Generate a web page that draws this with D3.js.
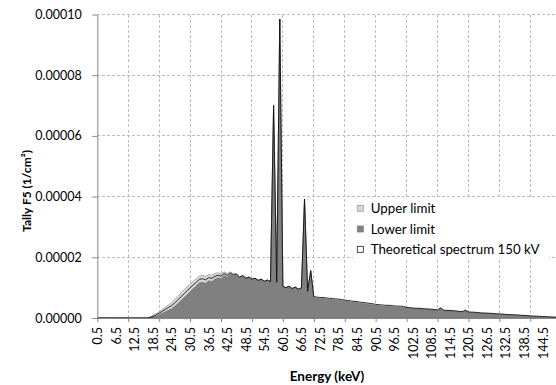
<!DOCTYPE html>
<html><head><meta charset="utf-8">
<script src="https://cdn.jsdelivr.net/npm/d3@7"></script>
<style>
body{margin:0;background:#fff}
svg{display:block}
text{font-family:Lato,"Open Sans",sans-serif;fill:#000}
</style></head>
<body><svg id="c" width="556" height="385"></svg>
<script>
// Energy bins (keV)
const energies = [0.5,1.5,2.5,3.5,4.5,5.5,6.5,7.5,8.5,9.5,10.5,11.5,12.5,13.5,14.5,15.5,16.5,17.5,18.5,19.5,
20.5,21.5,22.5,23.5,24.5,25.5,26.5,27.5,28.5,29.5,30.5,31.5,32.5,33.5,34.5,35.5,36.5,37.5,38.5,39.5,
40.5,41.5,42.5,43.5,44.5,45.5,46.5,47.5,48.5,49.5,50.5,51.5,52.5,53.5,54.5,55.5,56.5,57.5,58.5,59.5,
60.5,61.5,62.5,63.5,64.5,65.5,66.5,67.5,68.5,69.5,70.5,71.5,72.5,73.5,74.5,75.5,76.5,77.5,78.5,79.5,
80.5,81.5,82.5,83.5,84.5,85.5,86.5,87.5,88.5,89.5,90.5,91.5,92.5,93.5,94.5,95.5,96.5,97.5,98.5,99.5,
100.5,101.5,102.5,103.5,104.5,105.5,106.5,107.5,108.5,109.5,110.5,111.5,112.5,113.5,114.5,115.5,116.5,117.5,118.5,119.5,
120.5,121.5,122.5,123.5,124.5,125.5,126.5,127.5,128.5,129.5,130.5,131.5,132.5,133.5,134.5,135.5,136.5,137.5,138.5,139.5,
140.5,141.5,142.5,143.5,144.5,145.5,146.5,147.5,148.5,149.5];

// Series values in units of 1e-6 (1/cm^2)
const upperLimit = [0,0,0,0,0,0,0,0,0,0,
0,0,0,0,0,0,0,0.3,0.8,1.4,
2.1,2.8,3.6,4.3,5.1,6.1,7.1,8.2,9.2,10.2,
11.1,12.1,12.9,13.8,14.1,13.7,14.3,14.1,14.6,14.9,
14.6,15.2,14.7,15.2,14.6,14.7,13.4,14.0,13.1,13.5,
12.8,13.1,12.4,12.8,12.1,12.5,12.0,70.0,11.8,98.5,
10.4,10.0,10.5,9.7,10.2,9.5,9.9,39.2,8.8,15.6,
6.6,6.5,6.3,6.4,6.2,6.1,6.0,5.9,5.8,5.7,
5.5,5.4,5.2,5.1,5.0,4.8,4.7,4.6,4.4,4.3,
4.1,4.0,3.9,3.8,3.8,3.7,3.6,3.5,3.5,3.4,
3.3,3.2,3.1,3.0,3.0,2.9,2.8,2.8,2.7,2.6,
2.5,3.2,2.4,2.3,2.3,2.2,2.1,2.0,1.9,2.5,
1.8,1.75,1.7,1.6,1.5,1.45,1.4,1.35,1.3,1.2,
1.15,1.1,1.0,0.95,0.9,0.85,0.8,0.7,0.65,0.6,
0.5,0.45,0.4,0.35,0.3,0.25,0.2,0.15,0.1,0.05];

const lowerLimit = [0,0,0,0,0,0,0,0,0,0,
0,0,0,0,0,0,0,0.1,0.3,0.6,
1.1,1.6,2.1,2.6,3.0,3.8,4.7,5.7,6.7,7.7,
8.7,9.7,10.6,11.6,11.8,11.4,12.3,12.0,12.8,13.3,
13.0,14.1,13.4,14.4,13.8,14.2,13.4,14.0,13.1,13.5,
12.8,13.1,12.4,12.8,12.1,12.5,12.0,70.0,11.8,98.5,
10.4,10.0,10.5,9.7,10.2,9.5,9.9,39.2,8.8,15.6,
6.6,6.5,6.3,6.4,6.2,6.1,6.0,5.9,5.8,5.7,
5.5,5.4,5.2,5.1,5.0,4.8,4.7,4.6,4.4,4.3,
4.1,4.0,3.9,3.8,3.8,3.7,3.6,3.5,3.5,3.4,
3.3,3.2,3.1,3.0,3.0,2.9,2.8,2.8,2.7,2.6,
2.5,3.2,2.4,2.3,2.3,2.2,2.1,2.0,1.9,2.5,
1.8,1.75,1.7,1.6,1.5,1.45,1.4,1.35,1.3,1.2,
1.15,1.1,1.0,0.95,0.9,0.85,0.8,0.7,0.65,0.6,
0.5,0.45,0.4,0.35,0.3,0.25,0.2,0.15,0.1,0.05];

const theoretical150 = [0,0,0,0,0,0,0,0,0,0,
0,0,0,0,0,0,0,0.2,0.5,1.0,
1.6,2.2,2.85,3.45,4.05,4.95,5.9,6.95,7.95,8.95,
9.9,10.9,11.75,12.7,12.95,12.55,13.3,13.05,13.7,14.1,
13.8,14.65,14.05,14.8,14.2,14.45,13.4,14.0,13.1,13.5,
12.8,13.1,12.4,12.8,12.1,12.5,12.0,70.0,11.8,98.5,
10.4,10.0,10.5,9.7,10.2,9.5,9.9,39.2,8.8,15.6,
7.0,6.9,6.7,6.8,6.6,6.5,6.4,6.3,6.2,6.1,
5.9,5.8,5.6,5.5,5.4,5.2,5.1,5.0,4.8,4.7,
4.5,4.4,4.3,4.2,4.2,4.1,4.0,3.9,3.9,3.8,
3.5,3.4,3.3,3.2,3.2,3.1,3.0,3.0,2.9,2.8,
2.7,3.3,2.6,2.5,2.5,2.4,2.3,2.2,2.1,2.6,
2.0,1.95,1.9,1.8,1.7,1.65,1.6,1.55,1.5,1.4,
1.35,1.3,1.2,1.15,1.1,1.05,1.0,0.9,0.85,0.8,
0.7,0.65,0.6,0.55,0.5,0.45,0.4,0.35,0.3,0.25];

const seriesNames = ["Upper limit","Lower limit","Theoretical spectrum 150 kV"];
const xTickLabels = ["0.5","6.5","12.5","18.5","24.5","30.5","36.5","42.5","48.5","54.5","60.5","66.5","72.5",
"78.5","84.5","90.5","96.5","102.5","108.5","114.5","120.5","126.5","132.5","138.5","144.5"];
const yTickValues = [0,20,40,60,80,100];
const yTickLabels = ["0.00000","0.00002","0.00004","0.00006","0.00008","0.00010"];
const xTitle = "Energy (keV)";
const yTitle = "Tally F5 (1/cm²)";

const svg = d3.select("#c");
const padL = 97.3, padB = 318, padT = 14.5, W = 556;
const x = d3.scalePoint().domain(energies).range([padL, padL + 149*3.093]);
const y = d3.scaleLinear().domain([0,100]).range([padB, padT]);

const labelEnergies = energies.filter((e,i)=> i%6===0);
const gridEnergies = energies.filter((e,i)=> i%10===0);

// gridlines
const grid = svg.append("g");
grid.selectAll("line.h").data(yTickValues.filter(v=>v>0)).join("line")
  .attr("x1", padL).attr("x2", W).attr("y1", d=>y(d)).attr("y2", d=>y(d))
  .attr("stroke","#bdbdbd").attr("stroke-dasharray","3,2").attr("shape-rendering","crispEdges");
grid.selectAll("line.v").data(gridEnergies.slice(1)).join("line")
  .attr("x1", d=>x(d)).attr("x2", d=>x(d)).attr("y1", padT).attr("y2", padB)
  .attr("stroke","#bdbdbd").attr("stroke-dasharray","3,2").attr("shape-rendering","crispEdges");

// areas
const area = d3.area().x((d,i)=>x(energies[i])).y0(y(0)).y1(d=>y(d));
const line = d3.line().x((d,i)=>x(energies[i])).y(d=>y(d));
svg.append("path").datum(upperLimit).attr("d", area)
  .attr("fill","#d9d9d9").attr("stroke","#9a9a9a").attr("stroke-width",0.8);
svg.append("path").datum(lowerLimit).attr("d", area)
  .attr("fill","#808080").attr("stroke","#6e6e6e").attr("stroke-width",0.6);
svg.append("path").datum(theoretical150).attr("d", line)
  .attr("fill","none").attr("stroke","#111").attr("stroke-width",0.9);

// axes
const yAxis = svg.append("g").attr("transform",`translate(${padL},0)`)
  .call(d3.axisLeft(y).tickValues(yTickValues).tickFormat((d,i)=>yTickLabels[i]).tickSize(5).tickSizeOuter(0).tickPadding(10.6));
yAxis.select(".domain").attr("stroke","#868686");
yAxis.selectAll(".tick line").attr("stroke","#868686");
yAxis.selectAll("text").attr("font-size","12.5px").attr("font-family","Lato");

const xTicks = svg.append("g").attr("transform",`translate(0,${padB})`)
  .call(d3.axisBottom(x).tickValues(gridEnergies).tickFormat("").tickSize(4).tickSizeOuter(0));
xTicks.select(".domain").attr("stroke","#868686");
xTicks.selectAll(".tick line").attr("stroke","#868686");

const xLabels = svg.append("g").attr("transform",`translate(0,${padB})`)
  .call(d3.axisBottom(x).tickValues(labelEnergies).tickFormat((d,i)=>xTickLabels[i]).tickSize(0).tickSizeOuter(0));
xLabels.select(".domain").remove();
xLabels.selectAll("text").attr("font-size","12.5px").attr("font-family","Lato")
  .attr("transform","rotate(-90)").attr("text-anchor","end")
  .attr("x",-9).attr("y",0).attr("dy","0.35em");

// titles
svg.append("text").attr("transform","translate(26.5,191) rotate(-90)")
  .attr("text-anchor","middle").attr("dy","0.35em")
  .attr("font-weight","bold").attr("font-size","12px").text(yTitle);
svg.append("text").attr("x",327).attr("y",381)
  .attr("text-anchor","middle").attr("font-weight","bold").attr("font-size","13.5px").text(xTitle);

// legend
const lg = svg.append("g");
lg.append("rect").attr("x",353).attr("y",198).attr("width",196).attr("height",60).attr("fill","#fff");
const lgFill = ["#d9d9d9","#808080","#ffffff"];
const lgStroke = ["#9a9a9a","#808080","#222"];
const rowsY = [208.3,229,249.3];
seriesNames.forEach((n,i)=>{
  lg.append("rect").attr("x",357.3).attr("y",rowsY[i]-3).attr("width",6).attr("height",6)
    .attr("fill",lgFill[i]).attr("stroke",lgStroke[i]).attr("stroke-width",0.8);
  lg.append("text").attr("x",370.7).attr("y",rowsY[i]).attr("dy","0.35em")
    .attr("font-size","13.3px").text(n);
});
</script></body></html>
